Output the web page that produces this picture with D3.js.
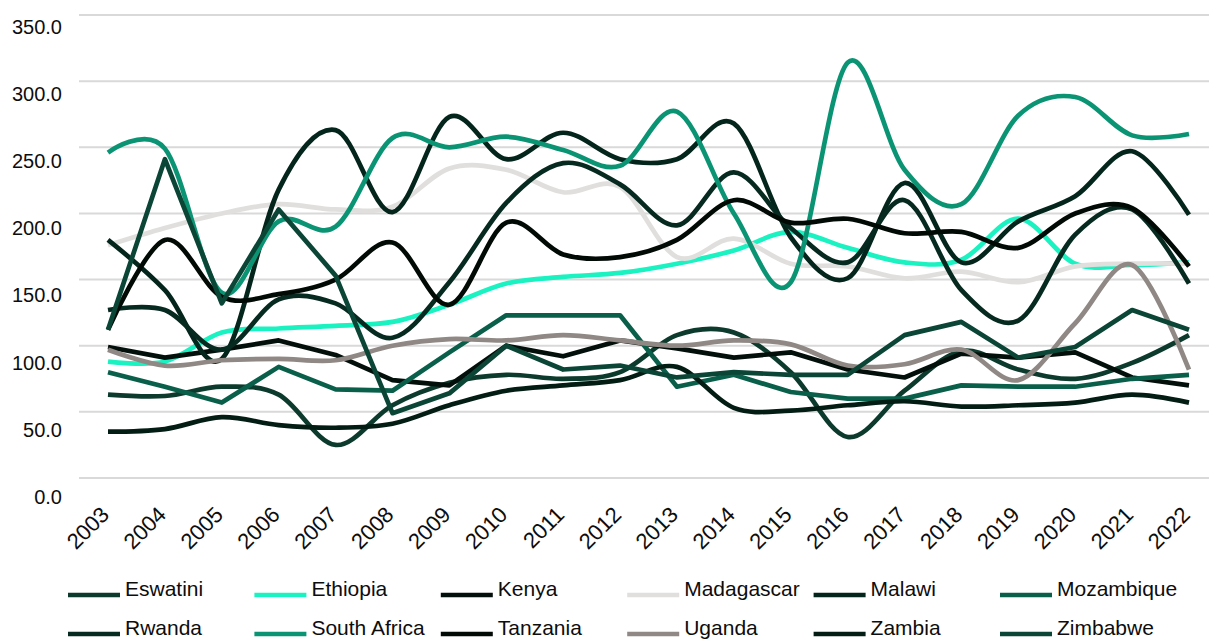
<!DOCTYPE html>
<html>
<head>
<meta charset="utf-8">
<script src="https://cdn.jsdelivr.net/npm/d3@7"></script>
<style>
  html, body { margin: 0; padding: 0; background: #fff; }
  svg { display: block; font-family: "Liberation Sans", Arial, sans-serif; }
</style>
</head>
<body>
<svg id="chart" width="1209" height="639"></svg>
<script>
// Years on the category axis
const years = ["2003","2004","2005","2006","2007","2008","2009","2010","2011","2012",
               "2013","2014","2015","2016","2017","2018","2019","2020","2021","2022"];

// Index values per country, 2003-2022
const eswatini    = [63, 62, 69, 63, 25, 55, 72, 78, 75, 80, 108, 110, 80, 31, 66, 96, 82, 75, 87, 108];
const ethiopia    = [88, 88, 110, 113, 115, 118, 131, 147, 152, 155, 162, 172, 186, 174, 163, 165, 196, 162, 161, 163];
const kenya       = [99, 91, 97, 104, 93, 74, 70, 100, 92, 104, 98, 91, 95, 82, 76, 94, 91, 95, 76, 70];
const madagascar  = [176, 189, 200, 207, 203, 205, 234, 233, 216, 220, 167, 181, 162, 160, 151, 156, 148, 160, 162, 162];
const malawi      = [180, 142, 90, 218, 263, 201, 273, 241, 261, 241, 241, 268, 182, 151, 223, 163, 194, 213, 247, 199];
const mozambique  = [80, 69, 57, 84, 67, 66, 95, 123, 123, 123, 69, 78, 65, 60, 60, 70, 69, 69, 75, 78];
const rwanda      = [127, 127, 97, 135, 132, 106, 148, 208, 238, 222, 191, 231, 189, 163, 210, 142, 119, 184, 203, 147];
const southAfrica = [246, 249, 140, 194, 190, 257, 250, 258, 248, 236, 277, 200, 148, 314, 233, 207, 274, 288, 259, 260];
const tanzania    = [112, 180, 137, 139, 150, 178, 131, 193, 169, 167, 180, 210, 193, 196, 185, 186, 174, 200, 204, 160];
const uganda      = [97, 85, 89, 90, 89, 100, 105, 104, 108, 104, 100, 104, 101, 85, 86, 97, 74, 117, 161, 82];
const zambia      = [35, 37, 46, 40, 38, 41, 55, 66, 70, 74, 84, 53, 51, 55, 58, 54, 55, 57, 63, 57];
const zimbabwe    = [112, 241, 132, 203, 153, 49, 64, 100, 82, 85, 76, 80, 78, 78, 108, 118, 91, 99, 127, 112];

const countries = ["Eswatini","Ethiopia","Kenya","Madagascar","Malawi","Mozambique",
                   "Rwanda","South Africa","Tanzania","Uganda","Zambia","Zimbabwe"];
const seriesValues = [eswatini, ethiopia, kenya, madagascar, malawi, mozambique,
                      rwanda, southAfrica, tanzania, uganda, zambia, zimbabwe];

// Value axis ticks
const yTicks = [0, 50, 100, 150, 200, 250, 300, 350];

// Styling
const colors = ["#0c3b2d","#1af2c1","#030f0a","#e0dfdd","#04251b","#0a5f4b",
                "#072a20","#0b9474","#020a06","#8f8884","#031d15","#0b4535"];
const straightSeries = ["Kenya","Mozambique","Zimbabwe"];

const series = countries.map((name, i) => ({
  name,
  color: colors[i],
  smooth: !straightSeries.includes(name),
  values: years.map((yr, j) => ({ year: yr, value: seriesValues[i][j] }))
}));

const svg = d3.select("#chart");
const W = 1209, H = 639;

const x = d3.scalePoint().domain(years).range([108, 1189]);
const y = d3.scaleLinear().domain([0, 350]).range([478, 15]);
// tick labels sit a little below their gridlines
const yLabel = d3.scaleLinear().domain([0, 350]).range([497, 27]);

// Horizontal gridlines
svg.append("g")
  .selectAll("line")
  .data(yTicks)
  .join("line")
  .attr("x1", 79).attr("x2", W)
  .attr("y1", d => y(d)).attr("y2", d => y(d))
  .attr("stroke", "#d9d9d9")
  .attr("stroke-width", 2);

// Value labels
const yAxis = svg.append("g")
  .attr("transform", "translate(65,0)")
  .call(d3.axisLeft(yLabel).tickValues(yTicks).tickSize(0).tickPadding(3).tickFormat(d3.format(".1f")));
yAxis.select(".domain").remove();
yAxis.selectAll("text")
  .attr("font-size", 20)
  .attr("font-family", "Liberation Sans, Arial, sans-serif")
  .attr("fill", "#0d0d0d");

// Year labels, rotated
const xAxis = svg.append("g")
  .attr("transform", "translate(0,516)")
  .call(d3.axisBottom(x).tickSize(0));
xAxis.select(".domain").remove();
xAxis.selectAll("text")
  .attr("x", 0).attr("y", 0).attr("dy", 0)
  .attr("text-anchor", "end")
  .attr("transform", "translate(2,0) rotate(-45)")
  .attr("font-size", 22)
  .attr("font-family", "Liberation Sans, Arial, sans-serif")
  .attr("fill", "#0d0d0d");

// Lines
const smoothLine = d3.line()
  .x(d => x(d.year)).y(d => y(d.value))
  .curve(d3.curveCardinal.tension(0));
const straightLine = d3.line()
  .x(d => x(d.year)).y(d => y(d.value))
  .curve(d3.curveLinear);

svg.append("g")
  .selectAll("path")
  .data(series)
  .join("path")
  .attr("fill", "none")
  .attr("stroke", d => d.color)
  .attr("stroke-width", 4.7)
  .attr("stroke-linejoin", "round")
  .attr("d", d => (d.smooth ? smoothLine : straightLine)(d.values));

// Legend: two rows of six
const legendCol = d3.scalePoint().domain(d3.range(6)).range([68, 1000]);
const legendRow = d3.scalePoint().domain([0, 1]).range([595, 634]);

const legend = svg.append("g")
  .selectAll("g")
  .data(series)
  .join("g")
  .attr("transform", (d, i) => `translate(${legendCol(i % 6)},${legendRow(Math.floor(i / 6))})`);

legend.append("line")
  .attr("x1", 0).attr("x2", 52)
  .attr("y1", 0).attr("y2", 0)
  .attr("stroke", d => d.color)
  .attr("stroke-width", 4.5);

legend.append("text")
  .attr("x", 57).attr("y", 1)
  .attr("font-size", 21)
  .attr("fill", "#0d0d0d")
  .text(d => d.name);
</script>
</body>
</html>
